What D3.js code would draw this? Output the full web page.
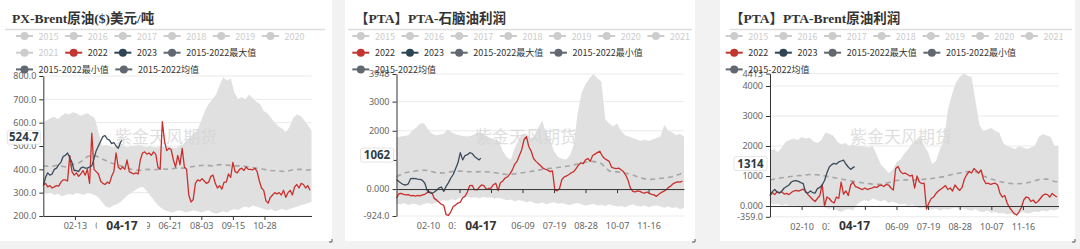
<!DOCTYPE html>
<html><head><meta charset="utf-8">
<script src="https://cdn.jsdelivr.net/npm/d3@7/dist/d3.min.js"></script>
<style>
html,body{margin:0;padding:0;background:#f2f2f2;}
svg{display:block;}
</style></head><body>
<svg id="c" width="1080" height="249"></svg>
<script>
// ---------- categories & legend ----------
const categories = d3.timeDay.range(new Date(2020,0,1), new Date(2021,0,1)).map(d3.timeFormat('%m-%d'));
const legendNames = ['2015','2016','2017','2018','2019','2020','2021','2022','2023','2015-2022最大值','2015-2022最小值','2015-2022均值'];
const legendColors = ['#ccc','#ccc','#ccc','#ccc','#ccc','#ccc','#ccc','#c23531','#2f4554','#61686f','#61686f','#61686f'];
const legendActive = [false,false,false,false,false,false,false,true,true,true,true,true];
const pointerDate = '04-17';
const watermark = '紫金天风期货';

// ---------- panel 1 : PX-Brent ----------
const title1 = 'PX-Brent原油($)美元/吨';
const yTicks1 = [200,300,400,500,600,700,800];
const yTickLabels1 = ['200.0','300.0','400.0','500.0','600.0','700.0','800.0'];
const xTicks1 = ['02-13','03-27','05-09','06-21','08-03','09-15','10-28'];
const xTickLabels1 = ['02-13','03-27','05-09','06-21','08-03','09-15','10-28'];
// every 5 days
const max1 = [600,610,620,625,615,630,640,635,645,640, 630,635,640,630,620,560,500,505,500,495, 500,505,500,495,500,500,505,500,495,500, 495,495,500,495,500,495,490,500,505,520, 540,555,570,610,650,680,700,720,760,795, 780,790,730,700,710,700,720,705,690,680, 650,640,620,600,585,575,560,580,620,635, 630,610,590,565];
const min1 = [300,295,300,290,295,285,290,295,290,300, 295,290,300,295,290,280,260,240,235,245, 250,260,275,290,300,310,320,325,310,290, 270,250,235,225,220,215,220,225,220,215, 220,225,220,215,220,225,215,210,215,220, 215,225,230,225,235,240,235,245,240,235, 230,225,230,220,225,230,225,230,235,240, 245,250,255,260];
// every 10 days (last = 12-31)
const mean1 = [415,412,418,410,420,430,455,460,445,430, 420,410,400,395,400,398,402,400,405,405, 410,415,418,415,420,418,415,415,410,405, 400,395,393,390,398,400,396,400];
// every 3 days
const s2022_1 = [333,340,325,330,320,325,330,328,345,355, 355,350,460,390,375,385,370,380,395,375, 400,340,555,400,390,380,350,340,335,345, 340,370,390,470,410,400,410,400,440,390, 385,380,385,380,440,470,475,465,470,460, 475,465,410,400,604,520,480,490,485,440, 410,460,420,490,410,400,290,260,270,340, 355,350,360,350,340,345,370,375,340,320, 330,315,345,345,380,365,430,390,385,400, 405,395,410,400,400,398,405,390,350,320, 310,265,255,280,290,300,295,300,290,310, 280,300,310,290,325,335,320,340,335,320, 330,310];
// every 3 days, last value = 04-17
const s2023_1 = [330,365,385,375,380,400,405,420,430,455, 460,470,450,430,395,395,390,405,410,405, 405,410,415,445,480,500,520,540,545,530, 525,510,515,500,490,515, 524.7];

// ---------- panel 2 : PTA-石脑油 ----------
const title2 = '【PTA】PTA-石脑油利润';
const yTicks2 = [-924,0,1000,2000,3000,3948];
const yTickLabels2 = ['-924.0','0.000','','2000','3000','3948'];
const xTicks2 = ['02-10','03-21','04-30','06-09','07-19','08-28','10-07','11-16'];
const xTickLabels2 = ['02-10','03-21','','06-09','07-19','08-28','10-07','11-16'];
const max2 = [1780,1800,1820,1850,2000,2100,2250,2260,2050,1900, 1850,1870,1900,2050,1950,1880,1850,1820,1800,1830, 1900,1950,1900,1800,1750,1700,1650,1300,1100,1000, 1400,1700,1900,1900,1750,1800,2100,2350,1900,1700, 1300,1100,1050,1000,1150,1500,2600,3300,3600,3800, 3948,3800,3700,2400,2250,2150,2250,2000,1850,1800, 1750,1700,1650,1700,1650,1700,1750,1800,2200,2000, 1950,1850,1900,1800];
const min2 = [-500,-520,-480,-550,-500,-520,-560,-500,-480,-520, -450,-420,-380,-400,-350,-380,-300,-280,-250,-300, -280,-320,-260,-300,-280,-320,-300,-340,-380,-360, -420,-380,-400,-450,-420,-480,-500,-460,-520,-480, -450,-500,-480,-520,-550,-500,-480,-520,-560,-540, -500,-560,-540,-580,-520,-560,-600,-580,-620,-560, -520,-580,-600,-560,-620,-580,-560,-600,-640,-600, -650,-620,-680,-650];
const mean2 = [420,560,600,650,640,560,550,600,620,600, 590,600,580,540,500,520,560,600,650,700, 720,760,800,860,920,950,880,620,590,550, 480,380,330,350,380,420,520,580];
const s2022_2 = [-300,-160,-150,-180,-200,-190,-230,-220,-240,-220, -230,-200,-180,-120,-100,-130,-320,-380,-450,-520, -560,-880,-900,-780,-600,-550,-480,-450,-300,-250, -100,120,130,-20,-30,60,140,120,-10,20, 30,150,200,-50,220,280,380,420,520,650, 850,950,1150,1350,1700,1800,1450,1300,1050,950, 880,800,720,680,650,600,620,-30,-60,20, 330,420,450,500,560,600,700,820,900,870, 1000,1050,950,1150,1200,1250,1300,1150,1050,1000, 950,750,720,700,720,660,600,480,300,30, -80,-100,-60,-80,-120,-140,-100,-150,-180,-200, -250,-180,-120,-80,-30,50,100,180,220,250, 240,270];
const s2023_2 = [330,260,200,150,140,180,360,370,360,340, 330,300,200,-60,-120,-150,-100,-40,40,70, -80,90,220,380,500,700,900,1250,1000,1150, 1180,1250,1220,1120,1060,1000, 1062];

// ---------- panel 3 : PTA-Brent ----------
const title3 = '【PTA】PTA-Brent原油利润';
const yTicks3 = [-359,0,1000,2000,3000,4000,4413];
const yTickLabels3 = ['-359.0','0.000','1000','2000','3000','4000','4413'];
const xTicks3 = ['02-10','03-21','04-30','06-09','07-19','08-28','10-07','11-16'];
const xTickLabels3 = ['02-10','03-21','','06-09','07-19','08-28','10-07','11-16'];
const max3 = [1850,1900,1800,1950,2150,2200,2250,2200,2300,2250, 2280,2150,2100,2200,2450,2400,2350,2150,2050,2100, 2000,2050,2000,2000,1980,1950,2000,1700,1400,1250, 1100,1200,1450,1550,1750,1900,2100,2200,2350,2000, 1800,1400,1500,1900,2200,3200,3700,4100,4300,4413, 4350,4300,3500,2700,2500,2550,2600,2500,2450,2100, 2000,1950,1900,2000,1950,1900,1950,2000,2300,2400, 2350,2300,2000,2000];
const min3 = [100,50,80,20,60,0,30,-20,20,-30, 0,-50,-20,0,-60,-100,-50,-150,-200,-120, -100,-150,50,150,200,150,250,200,150,200, 100,150,100,50,80,0,50,-20,-80,-50, -100,-120,-80,-150,-100,-120,-80,-50,-100,-80, -120,-150,-100,-180,-200,-150,-220,-200,-250,-220, -280,-250,-300,-250,-200,-250,-220,-180,-200,-150, -180,-120,-150,-100];
const mean3 = [870,920,960,1000,1020,1050,1040,1000,950,900, 850,800,760,730,720,780,850,870,860,880, 900,940,980,1050,1100,1150,1150,1000,900,820, 760,740,750,800,880,900,820,800];
const s2022_3 = [350,450,380,470,450,470,400,420,380,450, 500,520,500,530,560,500,380,300,220,150, 250,350,720,0,300,250,150,100,300,250, 800,400,500,350,700,800,650,620,580,550, 600,550,580,600,640,620,680,700,650,720, 700,600,530,1250,1320,1150,1080,1100,1050,1000, 1030,600,1000,800,750,760,-100,100,250,300, 420,500,560,620,680,550,600,500,700,600, 520,620,900,1050,1150,1100,1250,1180,1100,1200, 900,750,760,720,750,760,700,420,300,350, 100,-50,-150,-250,-300,-200,-50,200,300,280, 150,200,100,150,250,350,400,380,300,420, 350,300];
const s2023_3 = [350,480,550,470,430,500,600,650,700,800, 840,850,820,780,750,460,430,500,450,430, 580,620,700,850,1100,1300,1380,1420,1400,1470, 1500,1530,1400,1300,1220,1280, 1314];

// ---------- layout ----------
const panels = [
  {title:title1, titleX:12, card:[0,332], sep:[5,325], plot:[43.3,311.5], yr:[216,76], domain:[200,800],
   yTicks:yTicks1, yLabels:yTickLabels1, xTicks:xTicks1, xLabels:xTickLabels1, max:max1, min:min1, mean:mean1, s22:s2022_1, s23:s2023_1,
   zeroAxis:false, legendX:16, wm:[166,137]},
  {title:title2, titleX:355, card:[345,695], sep:[348,692], plot:[396.5,684], yr:[216,74], domain:[-924,3948],
   yTicks:yTicks2, yLabels:yTickLabels2, xTicks:xTicks2, xLabels:xTickLabels2, max:max2, min:min2, mean:mean2, s22:s2022_2, s23:s2023_2,
   zeroAxis:true, legendX:352.3, wm:[526,137]},
  {title:title3, titleX:730, card:[720,1075], sep:[730,1072], plot:[770,1058.5], yr:[216.8,73.6], domain:[-359,4413],
   yTicks:yTicks3, yLabels:yTickLabels3, xTicks:xTicks3, xLabels:xTickLabels3, max:max3, min:min3, mean:mean3, s22:s2022_3, s23:s2023_3,
   zeroAxis:true, legendX:725.7, wm:[901,137]}
];

const FONT = '"Noto Sans","Noto Sans CJK SC",sans-serif';
const CJK = '"Noto Sans CJK SC","Noto Sans",sans-serif';
const svg = d3.select('#c');
const last = categories.length - 1;

panels.forEach((p, pi) => {
  const g = svg.append('g');
  g.append('rect').attr('x',p.card[0]).attr('y',0).attr('width',p.card[1]-p.card[0]).attr('height',241).attr('fill','#fff');
  g.append('path').attr('d',`M${p.card[1]-3},${242} h3 v-3`).attr('stroke','#555').attr('fill','none').attr('stroke-width',1);
  g.append('text').attr('x',p.titleX).attr('y',23).text(p.title)
    .attr('font-family','"Liberation Serif","Noto Sans CJK SC",serif').attr('font-weight','bold')
    .attr('font-size',13.5).attr('fill','#333');
  g.append('line').attr('x1',p.sep[0]).attr('x2',p.sep[1]).attr('y1',29.5).attr('y2',29.5)
    .attr('stroke','#ddd').attr('stroke-width',1.5);

  const x = d3.scalePoint().domain(categories).range(p.plot);
  const y = d3.scaleLinear().domain(p.domain).range(p.yr);

  g.selectAll('line.grid').data(p.yTicks).join('line').attr('class','grid')
    .attr('x1',p.plot[0]).attr('x2',p.plot[1]).attr('y1',d=>y(d)).attr('y2',d=>y(d))
    .attr('stroke','#eaeaea').attr('stroke-width',1);

  const band = p.max.map((v,k)=>({c:categories[Math.min(k*5,last)], hi:v, lo:p.min[k]}));
  g.append('path').datum(band).attr('fill','#e0e0e0')
    .attr('d', d3.area().x(d=>x(d.c)).y0(d=>y(d.lo)).y1(d=>y(d.hi)));

  g.append('text').attr('x',p.wm[0]).attr('y',p.wm[1]).attr('text-anchor','middle').attr('dy','0.35em')
    .attr('font-family',CJK).attr('font-size',17).attr('fill','#d4d4d4').attr('fill-opacity',0.75).text(watermark);

  const line = d3.line().x(d=>x(d.c)).y(d=>y(d.v));
  const meanData = p.mean.map((v,k)=>({c:categories[Math.min(k*10,last)], v}));
  g.append('path').datum(meanData).attr('fill','none').attr('stroke','#a6a6a6').attr('stroke-width',1.6)
    .attr('stroke-dasharray','5,4').attr('d',line);
  const d22 = p.s22.map((v,k)=>({c:categories[Math.min(k*3,last)], v}));
  g.append('path').datum(d22).attr('fill','none').attr('stroke','#c9302c').attr('stroke-width',1.3)
    .attr('stroke-linejoin','round').attr('d',line);
  const d23 = p.s23.map((v,k)=>({c: k===p.s23.length-1 ? pointerDate : categories[k*3], v}));
  g.append('path').datum(d23).attr('fill','none').attr('stroke','#3b4b5b').attr('stroke-width',1.3)
    .attr('stroke-linejoin','round').attr('d',line);

  const ya = g.append('g').attr('transform',`translate(${p.plot[0]},0)`)
    .call(d3.axisLeft(y).tickValues(p.yTicks).tickFormat((d,i)=>p.yLabels[i]).tickSize(4).tickSizeOuter(0).tickPadding(3));
  ya.select('.domain').attr('stroke','#333');
  ya.selectAll('.tick line').attr('stroke','#333');
  ya.selectAll('text').attr('fill','#666').attr('font-size',9).attr('font-family',FONT);

  const clipId = 'xclip' + pi;
  const px = x(pointerDate);
  g.append('clipPath').attr('id',clipId).append('path')
    .attr('d',`M${p.card[0]},-20 H${px-25} V40 H${p.card[0]} Z M${px+25},-20 H${p.card[1]} V40 H${px+25} Z`);
  const xLabG = g.append('g').attr('clip-path',`url(#${clipId})`);
  const xa = xLabG.append('g').attr('transform',`translate(0,${p.yr[0]})`)
    .call(d3.axisBottom(x).tickValues(p.xTicks).tickFormat((d,i)=>p.xLabels[i]).tickSize(p.zeroAxis?0:4).tickSizeOuter(0).tickPadding(p.zeroAxis?7:3));
  // clipPath coordinates are in xLabG space (untransformed) -> shift vertically
  g.select('#'+clipId+' path').attr('transform',`translate(0,${p.yr[0]})`);
  xa.select('.domain').attr('stroke', p.zeroAxis ? 'none' : '#333');
  xa.selectAll('.tick line').attr('stroke','#333');
  xa.selectAll('text').attr('fill','#666').attr('font-size',9).attr('font-family',FONT);
  if (!p.zeroAxis) {
    // axis line & ticks under pointer label region kept visible
    g.append('line').attr('x1',px-25).attr('x2',px+25).attr('y1',p.yr[0]+0.5).attr('y2',p.yr[0]+0.5).attr('stroke','#333');
  }
  if (p.zeroAxis) {
    const za = g.append('g').attr('transform',`translate(0,${y(0)})`)
      .call(d3.axisBottom(x).tickValues(p.xTicks).tickFormat('').tickSize(4).tickSizeOuter(0));
    za.select('.domain').attr('stroke','#333');
    za.selectAll('.tick line').attr('stroke','#333');
  }

  g.append('rect').attr('x',px-25).attr('y',218.5).attr('width',50).attr('height',15).attr('fill','#fff');
  g.append('text').attr('x',px).attr('y',226).attr('dy','0.35em').attr('text-anchor','middle')
    .attr('font-family',FONT).attr('font-weight','bold').attr('font-size',12).attr('fill','#333').text(pointerDate);
  const pv = p.s23[p.s23.length-1];
  const py = y(pv) - 3;
  g.append('rect').attr('x',p.plot[0]-36).attr('y',py-7).attr('width',33).attr('height',14)
    .attr('fill','#fff').attr('stroke','#ddd').attr('stroke-width',0.8).attr('rx',2);
  g.append('text').attr('x',p.plot[0]-19.5).attr('y',py).attr('dy','0.35em').attr('text-anchor','middle')
    .attr('font-family',FONT).attr('font-weight','bold').attr('font-size',11.5).attr('fill','#2f3b47').text(String(pv));

  let lx = p.legendX, row = 0;
  const rowY = r => 36 + r*16.7;
  const limit = p.card[1] - 2;
  legendNames.forEach((name,i) => {
    const item = g.append('g');
    const t = item.append('text').attr('font-family',CJK).attr('font-size',9)
      .attr('fill', legendActive[i] ? '#333' : '#ccc').attr('dominant-baseline','central').text(name);
    const w = t.node().getComputedTextLength();
    const full = 22.6 + w;
    if (lx + full > limit && lx > p.legendX) { row++; lx = p.legendX; }
    const cy = rowY(row);
    t.attr('x', lx + 22.6).attr('y', cy);
    item.append('line').attr('x1',lx).attr('x2',lx+17).attr('y1',cy).attr('y2',cy)
      .attr('stroke',legendColors[i]).attr('stroke-width',2);
    item.append('circle').attr('cx',lx+8.5).attr('cy',cy).attr('r',4).attr('fill',legendColors[i]);
    lx += full + 6.6;
  });
});
</script>
</body></html>
